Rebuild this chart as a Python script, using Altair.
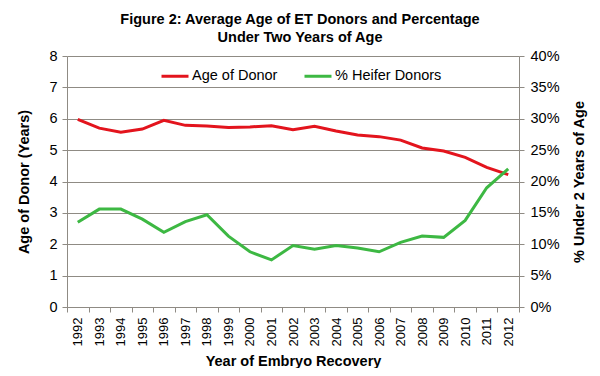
import altair as alt
import pandas as pd

years = [str(y) for y in range(1992, 2013)]
age_of_donor = [5.98, 5.70, 5.57, 5.67, 5.95, 5.79, 5.77, 5.72, 5.74, 5.78, 5.65,
                5.76, 5.61, 5.48, 5.43, 5.32, 5.07, 4.97, 4.77, 4.45, 4.22]
heifer_pct = [13.5, 15.6, 15.6, 14.0, 11.9, 13.6, 14.7, 11.3, 8.8, 7.5, 9.8,
              9.2, 9.8, 9.4, 8.8, 10.3, 11.3, 11.1, 13.8, 19.0, 22.0]
series_names = ["Age of Donor", "% Heifer Donors"]
series_colors = ["#E3141D", "#3DB843"]

df_age = pd.DataFrame({"Year": years, "Value": age_of_donor, "Series": series_names[0]})
df_pct = pd.DataFrame({"Year": years, "Value": heifer_pct, "Series": series_names[1]})

FONT = "Liberation Sans"
GRID = "#8F8B84"

x_enc = alt.X("Year:O",
              scale=alt.Scale(type="band", paddingInner=0, paddingOuter=0),
              axis=alt.Axis(title="Year of Embryo Recovery", labelAngle=270,
                            labelAlign="right", labelBaseline="middle",
                            labelFontSize=13, labelPadding=5, tickBand="extent",
                            tickSize=5, tickColor=GRID, domainColor=GRID,
                            titleFontSize=14.5, titleFontWeight="bold",
                            titlePadding=9, grid=False))

color_enc = alt.Color("Series:N",
                      scale=alt.Scale(domain=series_names, range=series_colors),
                      legend=alt.Legend(title=None, orient="none", direction="horizontal",
                                        legendX=93, legendY=5, symbolType="stroke",
                                        symbolStrokeWidth=3, symbolSize=729,
                                        labelFontSize=14.5, labelOffset=2,
                                        columnPadding=20, labelColor="#000"))

age_line = alt.Chart(df_age).mark_line(strokeWidth=3).encode(
    x=x_enc,
    y=alt.Y("Value:Q", scale=alt.Scale(domain=[0, 8]),
            axis=alt.Axis(title="Age of Donor (Years)", values=list(range(0, 9)),
                          orient="left", grid=True, gridColor=GRID,
                          tickSize=5, tickColor=GRID, domainColor=GRID,
                          labelFontSize=14.5, labelPadding=5,
                          titleFontSize=14.5, titleFontWeight="bold",
                          titlePadding=17)),
    color=color_enc,
)

pct_line = alt.Chart(df_pct).mark_line(strokeWidth=3).encode(
    x=x_enc,
    y=alt.Y("Value:Q", scale=alt.Scale(domain=[0, 40]),
            axis=alt.Axis(title="% Under 2 Years of Age", values=list(range(0, 41, 5)),
                          orient="right", grid=False, labelExpr="datum.value + '%'",
                          tickSize=5, tickColor=GRID, domainColor=GRID,
                          labelFontSize=14.5, labelPadding=6,
                          titleFontSize=14.5, titleFontWeight="bold",
                          titleAngle=270, titlePadding=27)),
    color=color_enc,
)

chart = alt.layer(age_line, pct_line).resolve_scale(y="independent").properties(
    width=452, height=251,
    autosize=alt.AutoSizeParams(type="none"),
    padding={"left": 59, "top": 48, "right": 73, "bottom": 61},
    title=alt.TitleParams(
        text=["Figure 2: Average Age of ET Donors and Percentage", "Under Two Years of Age"],
        fontSize=14.5, fontWeight="bold", font=FONT, anchor="middle",
        lineHeight=18, offset=3, dx=7, color="#000"),
).configure(font=FONT).configure_axis(
    labelFont=FONT, titleFont=FONT, labelColor="#000", titleColor="#000"
).configure_view(stroke=None)

chart.save("out.html", embed_options={"renderer": "svg", "actions": False})
